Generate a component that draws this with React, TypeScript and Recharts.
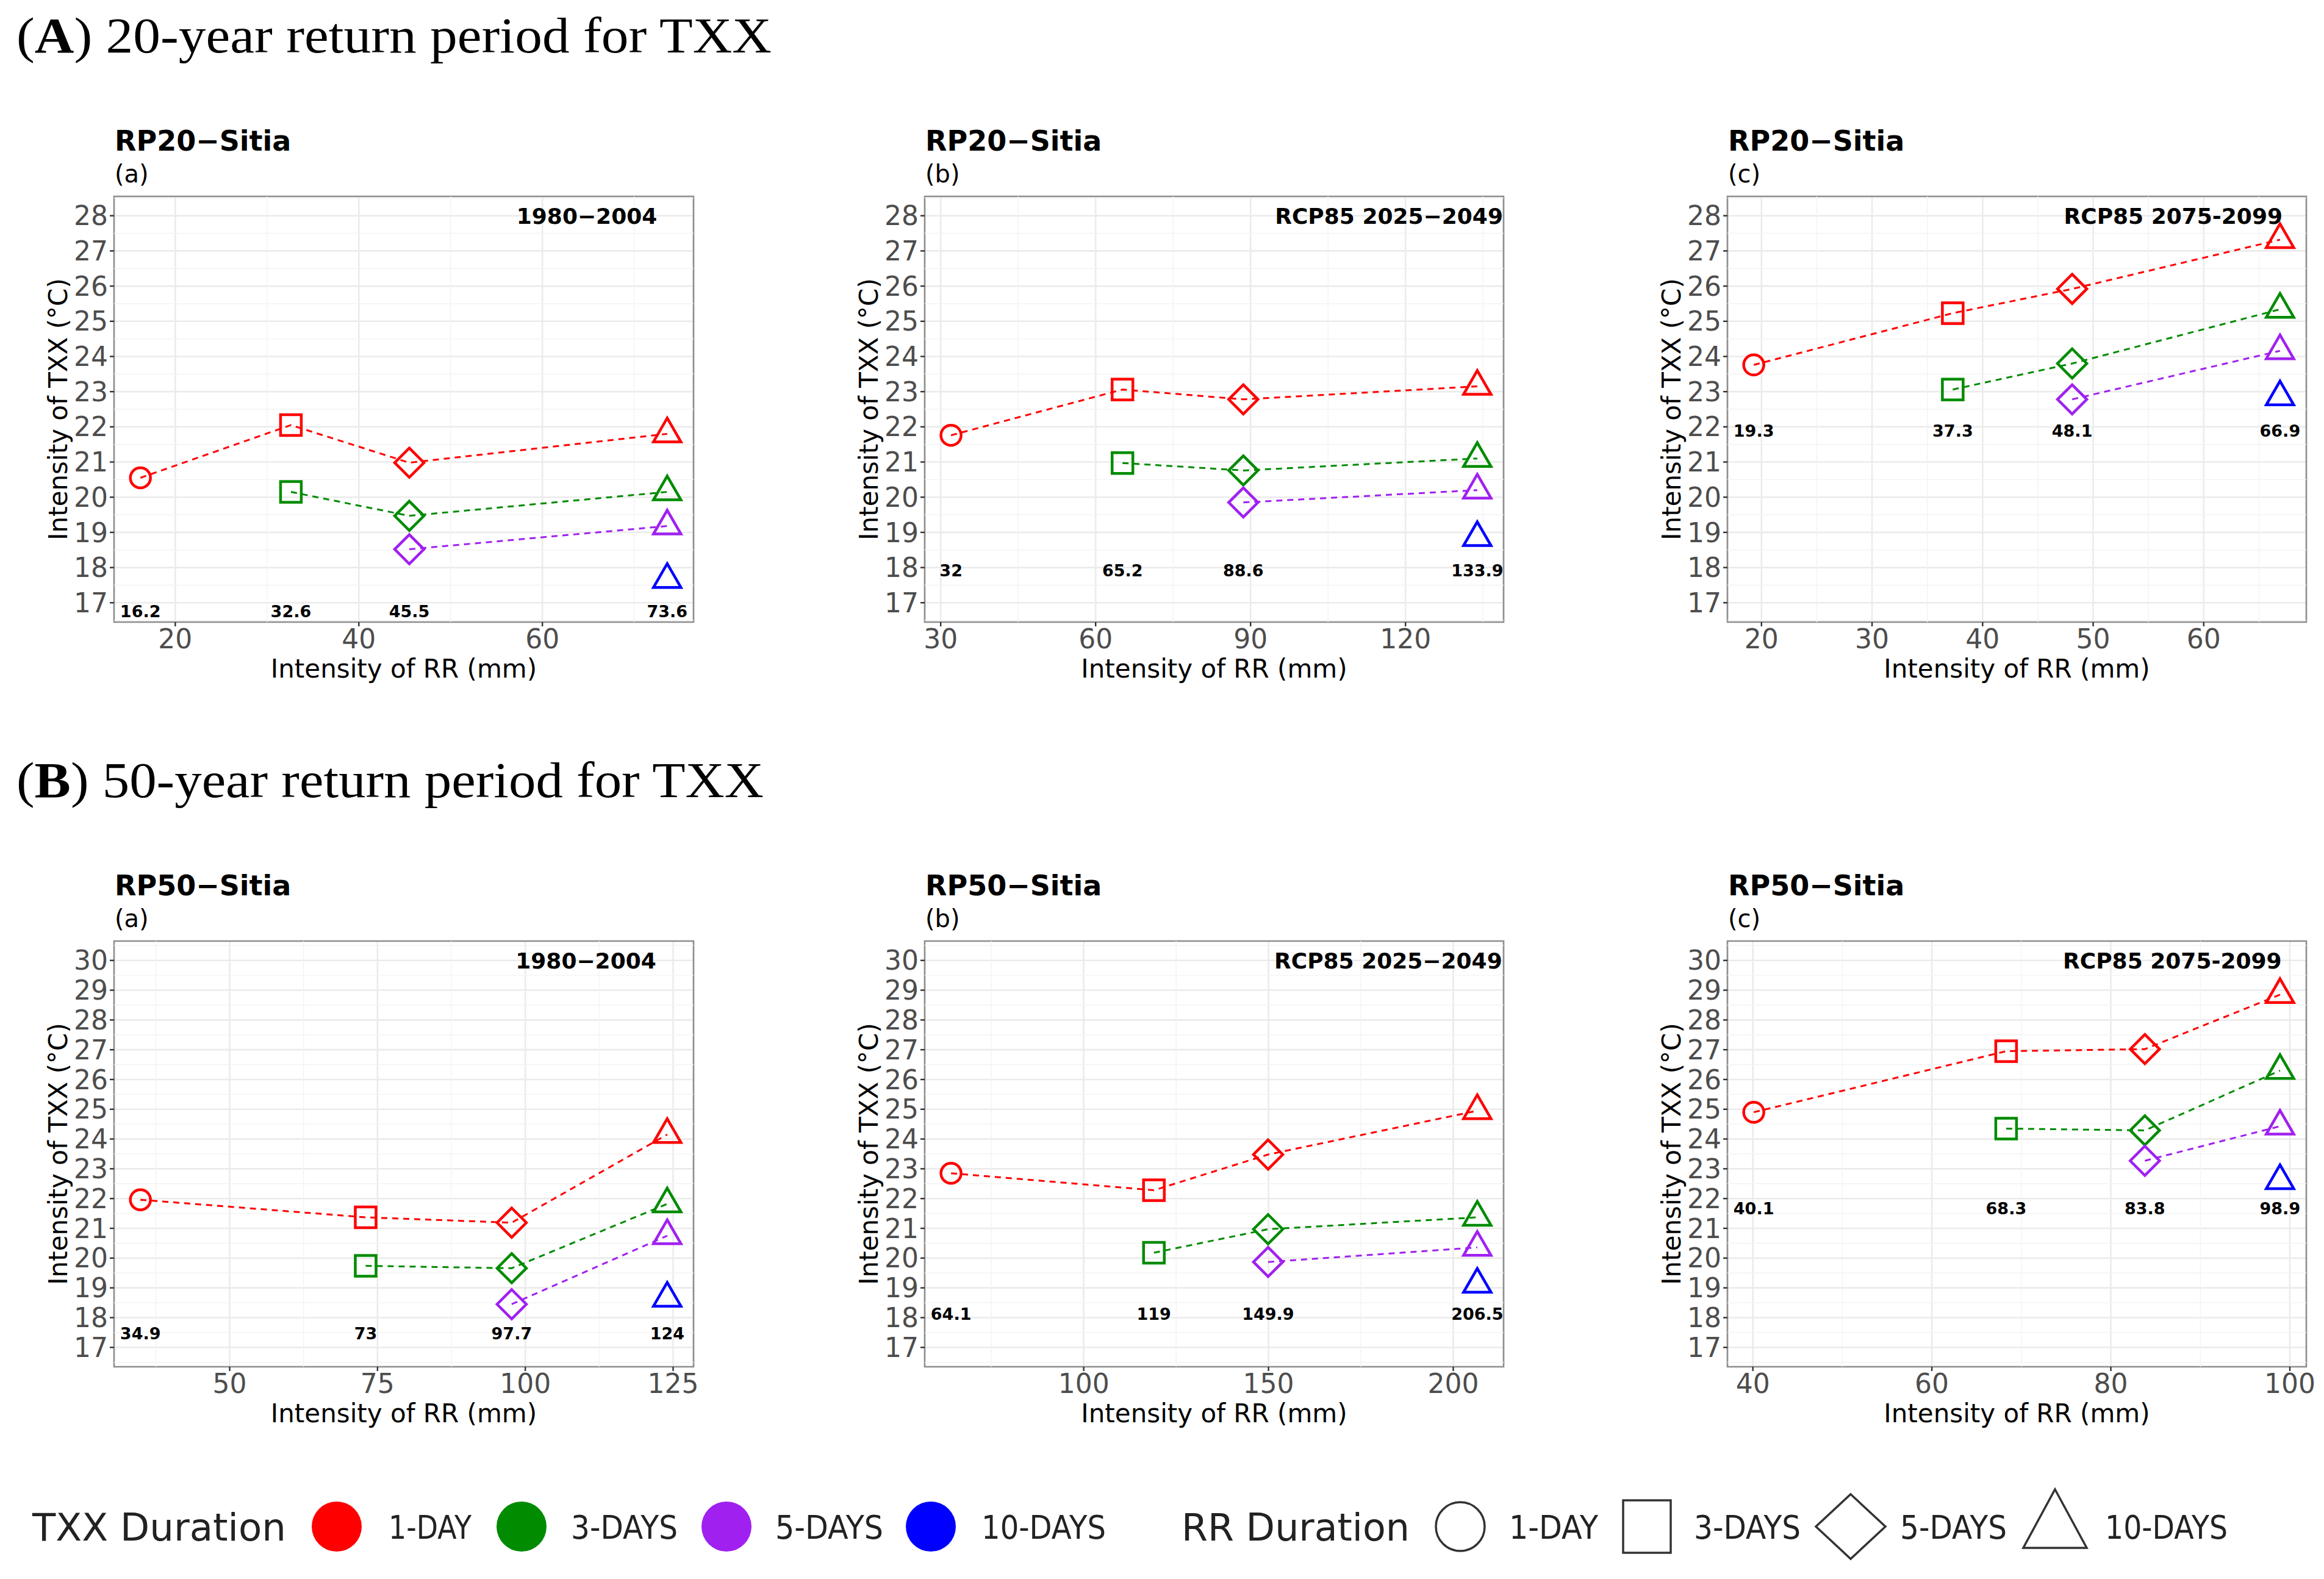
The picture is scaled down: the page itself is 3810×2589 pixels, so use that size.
import React from 'react';
import { ScatterChart, Scatter, XAxis, YAxis, CartesianGrid, ReferenceLine, ReferenceArea } from 'recharts';

const FONT = '"DejaVu Sans", "Noto Sans", sans-serif';
const SERIF = '"Liberation Serif", "DejaVu Serif", serif';

// ---------- legend / categories ----------
const TXX_DURATIONS = ['1-DAY', '3-DAYS', '5-DAYS', '10-DAYS'];
const TXX_COLORS = ['#FF0000', '#008B00', '#A020F0', '#0000FF'];
const RR_DURATIONS = ['1-DAY', '3-DAYS', '5-DAYS', '10-DAYS'];

// ---------- (A) 20-year return period ----------
// (a) 1980-2004
const rrA_a = [16.2, 32.6, 45.5, 73.6];
const txxA_a_1 = [20.55, 22.05, 20.98, 21.8];
const txxA_a_3 = [null, 20.15, 19.47, 20.15];
const txxA_a_5 = [null, null, 18.52, 19.18];
const txxA_a_10 = [null, null, null, 17.66];
// (b) RCP85 2025-2049
const rrA_b = [32, 65.2, 88.6, 133.9];
const txxA_b_1 = [21.76, 23.06, 22.78, 23.15];
const txxA_b_3 = [null, 20.97, 20.76, 21.1];
const txxA_b_5 = [null, null, 19.85, 20.2];
const txxA_b_10 = [null, null, null, 18.85];
// (c) RCP85 2075-2099
const rrA_c = [19.3, 37.3, 48.1, 66.9];
const txxA_c_1 = [23.76, 25.23, 25.92, 27.32];
const txxA_c_3 = [null, 23.06, 23.8, 25.34];
const txxA_c_5 = [null, null, 22.78, 24.16];
const txxA_c_10 = [null, null, null, 22.85];

// ---------- (B) 50-year return period ----------
const rrB_a = [34.9, 73, 97.7, 124];
const txxB_a_1 = [21.96, 21.37, 21.19, 24.15];
const txxB_a_3 = [null, 19.74, 19.66, 21.82];
const txxB_a_5 = [null, null, 18.45, 20.75];
const txxB_a_10 = [null, null, null, 18.65];

const rrB_b = [64.1, 119, 149.9, 206.5];
const txxB_b_1 = [22.85, 22.28, 23.48, 24.95];
const txxB_b_3 = [null, 20.18, 20.97, 21.37];
const txxB_b_5 = [null, null, 19.87, 20.36];
const txxB_b_10 = [null, null, null, 19.12];

const rrB_c = [40.1, 68.3, 83.8, 98.9];
const txxB_c_1 = [24.9, 26.95, 27.02, 28.85];
const txxB_c_3 = [null, 24.35, 24.29, 26.3];
const txxB_c_5 = [null, null, 23.27, 24.43];
const txxB_c_10 = [null, null, null, 22.6];

// tick labels
const xTicksA_a = [20, 40, 60];
const xTicksA_b = [30, 60, 90, 120];
const xTicksA_c = [20, 30, 40, 50, 60];
const xTicksB_a = [50, 75, 100, 125];
const xTicksB_b = [100, 150, 200];
const xTicksB_c = [40, 60, 80, 100];
const xMinorA_a = [30, 50, 70];
const xMinorA_b = [45, 75, 105, 135];
const xMinorA_c = [25, 35, 45, 55, 65];
const xMinorB_a = [37.5, 62.5, 87.5, 112.5];
const xMinorB_b = [75, 125, 175];
const xMinorB_c = [50, 70, 90];

// y position (in °C) of the RR value labels, and annotation anchors
const labelYs = { Aa: 16.76, Ab: 17.93, Ac: 21.9, Ba: 17.48, Bb: 18.13, Bc: 21.68 };
const annTexts = { Aa: '1980\u22122004', Ab: 'RCP85 2025\u22122049', Ac: 'RCP85 2075-2099', Ba: '1980\u22122004', Bb: 'RCP85 2025\u22122049', Bc: 'RCP85 2075-2099' };
const annXs = { Aa: 64.84, Ab: 116.8, Ac: 57.24, Ba: 110.25, Bb: 182.4, Bc: 86.87 };

const PANELS = [
  { key: 'Aa', left: 187, top: 322, w: 950, h: 698, yMin: 17, yMax: 28, rr: rrA_a, vals: [txxA_a_1, txxA_a_3, txxA_a_5, txxA_a_10], xTicks: xTicksA_a, xMinor: xMinorA_a, title: 'RP20\u2212Sitia', tag: '(a)' },
  { key: 'Ab', left: 1516, top: 322, w: 949, h: 698, yMin: 17, yMax: 28, rr: rrA_b, vals: [txxA_b_1, txxA_b_3, txxA_b_5, txxA_b_10], xTicks: xTicksA_b, xMinor: xMinorA_b, title: 'RP20\u2212Sitia', tag: '(b)' },
  { key: 'Ac', left: 2832, top: 322, w: 949, h: 698, yMin: 17, yMax: 28, rr: rrA_c, vals: [txxA_c_1, txxA_c_3, txxA_c_5, txxA_c_10], xTicks: xTicksA_c, xMinor: xMinorA_c, title: 'RP20\u2212Sitia', tag: '(c)' },
  { key: 'Ba', left: 187, top: 1543, w: 950, h: 698, yMin: 17, yMax: 30, rr: rrB_a, vals: [txxB_a_1, txxB_a_3, txxB_a_5, txxB_a_10], xTicks: xTicksB_a, xMinor: xMinorB_a, title: 'RP50\u2212Sitia', tag: '(a)' },
  { key: 'Bb', left: 1516, top: 1543, w: 949, h: 698, yMin: 17, yMax: 30, rr: rrB_b, vals: [txxB_b_1, txxB_b_3, txxB_b_5, txxB_b_10], xTicks: xTicksB_b, xMinor: xMinorB_b, title: 'RP50\u2212Sitia', tag: '(b)' },
  { key: 'Bc', left: 2832, top: 1543, w: 949, h: 698, yMin: 17, yMax: 30, rr: rrB_c, vals: [txxB_c_1, txxB_c_3, txxB_c_5, txxB_c_10], xTicks: xTicksB_c, xMinor: xMinorB_c, title: 'RP50\u2212Sitia', tag: '(c)' },
];

function Marker({ cx, cy, s, color, sw = 4.5 }: any) {
  if (cx == null || cy == null) return null;
  const common = { fill: 'none', stroke: color, strokeWidth: sw, strokeLinejoin: 'miter' as const };
  if (s === 0) return <circle cx={cx} cy={cy} r={16.5} {...common} />;
  if (s === 1) return <rect x={cx - 17} y={cy - 17} width={34} height={34} {...common} />;
  if (s === 2) {
    const d = 24;
    return <polygon points={`${cx},${cy - d} ${cx + d},${cy} ${cx},${cy + d} ${cx - d},${cy}`} {...common} />;
  }
  const r = 26, xc = 22.5, yc = 13;
  return <polygon points={`${cx},${cy - r} ${cx + xc},${cy + yc} ${cx - xc},${cy + yc}`} {...common} />;
}

const YW = 170;
const XH = 130;
const MT = 10;
const MR = 30;

function Panel({ cfg }: any) {
  const { key, left, top, w, h, yMin, yMax, rr, vals, xTicks, xMinor } = cfg;
  const xmin = Math.min(...rr), xmax = Math.max(...rr);
  const xr = xmax - xmin;
  const xDom = [xmin - 0.05 * xr, xmax + 0.05 * xr];
  const yr = yMax - yMin;
  const yDom = [yMin - 0.05 * yr, yMax + 0.05 * yr];
  const yTicks: number[] = [];
  for (let v = yMin; v <= yMax; v++) yTicks.push(v);
  const yMinor: number[] = [];
  for (let v = yMin - 0.5; v <= yMax + 0.5; v++) if (v > yDom[0] && v < yDom[1]) yMinor.push(v);

  const series = vals.map((arr: any[]) =>
    rr.map((x: number, i: number) => (arr[i] == null ? null : { x, y: arr[i], s: i })).filter(Boolean)
  );
  const labelData = rr.map((x: number) => ({ x, y: labelYs[key as keyof typeof labelYs], t: String(x) }));
  const annData = [{ x: annXs[key as keyof typeof annXs], y: yMax, t: annTexts[key as keyof typeof annTexts] }];

  const tickStyle = { fontSize: 44, fill: '#4d4d4d', fontFamily: FONT };

  return (
    <div style={{ position: 'absolute', left: left - YW, top: top - MT }}>
      <ScatterChart width={YW + w + MR} height={MT + h + XH} margin={{ top: MT, right: MR, bottom: 0, left: 0 }}>
        <CartesianGrid stroke="#ebebeb" strokeWidth={2.6} />
        {xMinor.map((v: number) => (
          <ReferenceLine key={'xm' + v} x={v} stroke="#f3f3f3" strokeWidth={1.4} ifOverflow="visible" />
        ))}
        {yMinor.map((v: number) => (
          <ReferenceLine key={'ym' + v} y={v} stroke="#f3f3f3" strokeWidth={1.4} ifOverflow="visible" />
        ))}
        <ReferenceArea x1={xDom[0]} x2={xDom[1]} y1={yDom[0]} y2={yDom[1]} fill="none" fillOpacity={0} stroke="#8f8f8f" strokeWidth={2.6} ifOverflow="visible" />
        <XAxis
          type="number"
          dataKey="x"
          domain={xDom}
          ticks={xTicks}
          interval={0}
          height={XH}
          axisLine={false}
          tickSize={7}
          tickMargin={5}
          tickLine={{ stroke: '#333333', strokeWidth: 2.4 }}
          tick={tickStyle}
          label={{
            content: (p: any) => {
              const vb = p.viewBox || {};
              return (
                <text x={vb.x + vb.width / 2} y={vb.y + 91} textAnchor="middle" fontSize={42} fontFamily={FONT} fill="#000">
                  Intensity of RR (mm)
                </text>
              );
            },
          }}
        />
        <YAxis
          type="number"
          dataKey="y"
          domain={yDom}
          ticks={yTicks}
          interval={0}
          width={YW}
          axisLine={false}
          tickSize={7}
          tickMargin={3}
          tickLine={{ stroke: '#333333', strokeWidth: 2.4 }}
          tick={tickStyle}
          label={{
            content: (p: any) => {
              const vb = p.viewBox || {};
              const x = vb.x + vb.width - 77;
              const y = vb.y + vb.height / 2;
              return (
                <text x={x} y={y} transform={`rotate(-90 ${x} ${y})`} textAnchor="middle" fontSize={42} fontFamily={FONT} fill="#000">
                  Intensity of TXX (°C)
                </text>
              );
            },
          }}
        />
        {series.map((data: any[], c: number) => (
          <Scatter
            key={TXX_DURATIONS[c]}
            name={TXX_DURATIONS[c]}
            data={data}
            fill={TXX_COLORS[c]}
            isAnimationActive={false}
            line={data.length > 1 ? { stroke: TXX_COLORS[c], strokeWidth: 3, strokeDasharray: '10 8' } : false}
            lineType="joint"
            shape={(p: any) => <Marker cx={p.cx} cy={p.cy} s={p.payload?.s} color={TXX_COLORS[c]} />}
          />
        ))}
        <Scatter
          data={labelData}
          isAnimationActive={false}
          shape={(p: any) => (
            <text x={p.cx} y={p.cy + 10} textAnchor="middle" fontSize={27} fontWeight="bold" fontFamily={FONT} fill="#000">
              {p.payload?.t}
            </text>
          )}
        />
        <Scatter
          data={annData}
          isAnimationActive={false}
          shape={(p: any) => (
            <text x={p.cx} y={p.cy + 13} textAnchor="middle" fontSize={36} fontWeight="bold" fontFamily={FONT} fill="#000">
              {p.payload?.t}
            </text>
          )}
        />
      </ScatterChart>
    </div>
  );
}

function LegendShape({ s, cx, cy }: any) {
  const common = { fill: 'none', stroke: '#333', strokeWidth: 3.5 };
  if (s === 0) return <circle cx={cx} cy={cy} r={40} {...common} />;
  if (s === 1) return <rect x={cx - 39} y={cy - 43} width={78} height={86} {...common} />;
  if (s === 2) return <polygon points={`${cx},${cy - 53} ${cx + 57},${cy} ${cx},${cy + 53} ${cx - 57},${cy}`} {...common} />;
  return <polygon points={`${cx},${cy - 61} ${cx + 52},${cy + 35} ${cx - 52},${cy + 35}`} {...common} />;
}

const LEG_Y = 2503;
const legTxxDot = [552, 855, 1191, 1526];
const legTxxText = [[637, 136], [936, 175], [1271, 177], [1609, 204]];
const legRrShape = [2394, 2700, 3034, 3369];
const legRrText = [[2474, 146], [2777, 175], [3115, 175], [3451, 201]];

export default function App() {
  return (
    <div style={{ position: 'relative', width: 3810, height: 2589, background: '#fff', overflow: 'hidden' }}>
      <style>{'body{margin:0;background:#fff}'}</style>
      <svg width={3810} height={2589} style={{ position: 'absolute', left: 0, top: 0 }}>
        <text x={27} y={86} fontFamily={SERIF} fontSize={82} fill="#000" textLength={1238} lengthAdjust="spacingAndGlyphs">
          (<tspan fontWeight="bold">A</tspan>) 20-year return period for TXX
        </text>
        <text x={27} y={1307} fontFamily={SERIF} fontSize={82} fill="#000" textLength={1225} lengthAdjust="spacingAndGlyphs">
          (<tspan fontWeight="bold">B</tspan>) 50-year return period for TXX
        </text>
        {PANELS.map((p) => (
          <g key={p.key}>
            <text x={p.left + 1} y={p.top - 75} fontFamily={FONT} fontSize={46} fontWeight="bold" fill="#000">{p.title}</text>
            <text x={p.left + 1} y={p.top - 23} fontFamily={FONT} fontSize={40} fill="#000">{p.tag}</text>
          </g>
        ))}
        {/* legend */}
        <text x={53} y={LEG_Y + 23} fontFamily={FONT} fontSize={62} fill="#222" textLength={416} lengthAdjust="spacingAndGlyphs">TXX Duration</text>
        {TXX_DURATIONS.map((d, i) => (
          <g key={'lt' + d}>
            <circle cx={legTxxDot[i]} cy={LEG_Y} r={41} fill={TXX_COLORS[i]} />
            <text x={legTxxText[i][0]} y={LEG_Y + 20} fontFamily={FONT} fontSize={54} fill="#222" textLength={legTxxText[i][1]} lengthAdjust="spacingAndGlyphs">{d}</text>
          </g>
        ))}
        <text x={1937} y={LEG_Y + 23} fontFamily={FONT} fontSize={62} fill="#222" textLength={374} lengthAdjust="spacingAndGlyphs">RR Duration</text>
        {RR_DURATIONS.map((d, i) => (
          <g key={'lr' + d}>
            <LegendShape s={i} cx={legRrShape[i]} cy={LEG_Y} />
            <text x={legRrText[i][0]} y={LEG_Y + 20} fontFamily={FONT} fontSize={54} fill="#222" textLength={legRrText[i][1]} lengthAdjust="spacingAndGlyphs">{d}</text>
          </g>
        ))}
      </svg>
      {PANELS.map((p) => (
        <Panel key={p.key} cfg={p} />
      ))}
    </div>
  );
}
